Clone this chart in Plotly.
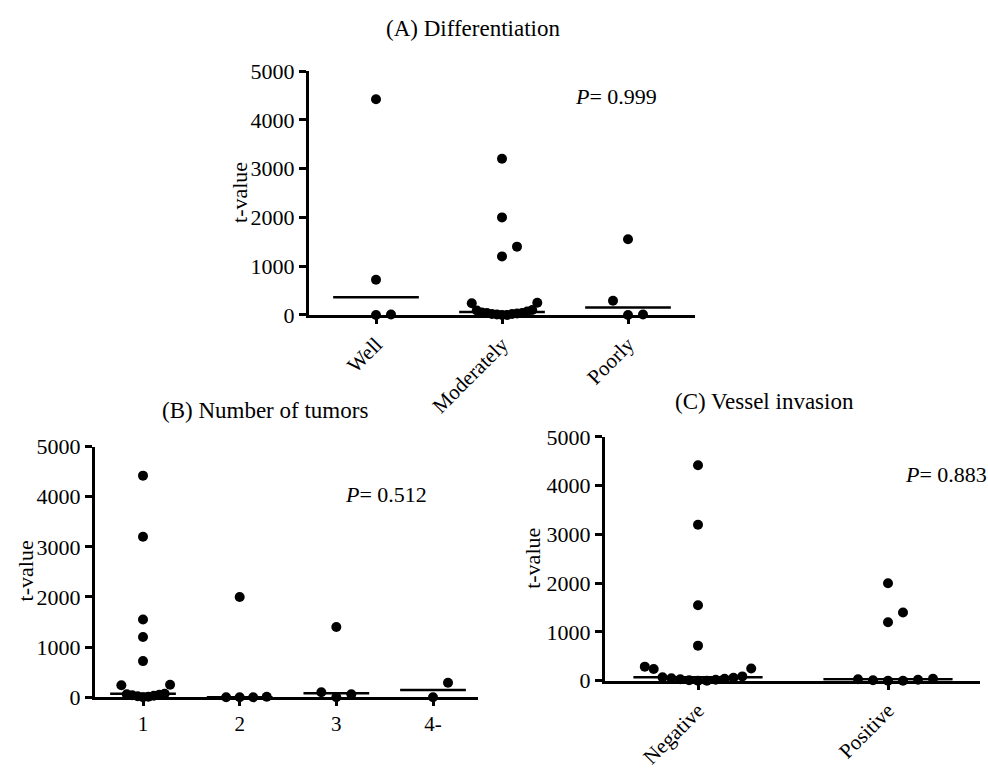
import numpy as np
import plotly.graph_objects as go

W, H = 988, 777
FONT = "Liberation Serif"

# ---------------- data ----------------
# (A) Differentiation
diff_categories = ["Well", "Moderately", "Poorly"]
diff_well = [4420, 720, 0, 10]
diff_moderately = [3200, 2000, 1400, 1200, 250, 240, 100, 90, 70, 50, 40, 40, 30, 20, 20, 10, 0, 0]
diff_poorly = [1550, 290, 0, 10]
diff_p = "0.999"

# (B) Number of tumors
tum_categories = ["1", "2", "3", "4-"]
tum_1 = [4420, 3200, 1550, 1200, 720, 250, 240, 70, 60, 50, 40, 30, 20, 10, 0]
tum_2 = [2000, 0, 0, 10, 0]
tum_3 = [1400, 100, 60, 0]
tum_4 = [290, 0]
tum_p = "0.512"

# (C) Vessel invasion
ves_categories = ["Negative", "Positive"]
ves_negative = [4420, 3200, 1550, 720, 290, 250, 240, 90, 70, 60, 50, 40, 30, 20, 10, 0, 0]
ves_positive = [2000, 1400, 1200, 40, 30, 20, 10, 0, 0]
ves_p = "0.883"

y_ticks = [0, 1000, 2000, 3000, 4000, 5000]


def px_x(p):
    return p / W


def px_y(p):
    return 1 - p / H


def swarm_offsets(values, ppu_x, ppu_y, spacing_px=15.0, maxhalf=0.28, bin_px=15.5):
    vals = np.asarray(values, float)
    order = np.argsort(vals, kind="stable")
    offs = np.zeros(len(vals))
    bins, cur, start = [], [], None
    for idx in order:
        v = vals[idx]
        if cur and (v - start) * ppu_y >= bin_px:
            bins.append(cur)
            cur = []
        if not cur:
            start = v
        cur.append(idx)
    if cur:
        bins.append(cur)
    for b in bins:
        n = len(b)
        k = int(np.ceil((n - 1) / 2)) if n > 1 else 1
        s = min(spacing_px / ppu_x, maxhalf / k)
        for j, idx in enumerate(b):
            m = (j + 1) // 2
            sign = 1 if j % 2 == 1 else -1
            offs[idx] = sign * m * s if j else 0.0
    return offs


panels = [
    dict(cats=diff_categories, groups=[diff_well, diff_moderately, diff_poorly],
         xpx=(309, 695), ypx=(61, 313), cat_px=(376, 628), tickangle=-45,
         title="(A) Differentiation", title_xy=(473, 17), p=diff_p, p_xy=(616, 87),
         ylab_xy=(240, 187)),
    dict(cats=tum_categories, groups=[tum_1, tum_2, tum_3, tum_4],
         xpx=(95, 478), ypx=(449, 708), cat_px=(143, 433), tickangle=0,
         title="(B) Number of tumors", title_xy=(265, 412), p=tum_p, p_xy=(386, 499),
         ylab_xy=(25, 578)),
    dict(cats=ves_categories, groups=[ves_negative, ves_positive],
         xpx=(605, 980), ypx=(439, 691), cat_px=(698, 888), tickangle=-45,
         title="(C) Vessel invasion", title_xy=(764, 402), p=ves_p, p_xy=(946, 478),
         ylab_xy=(533, 565)),
]

fig = go.Figure()
annotations = []

for i, pn in enumerate(panels):
    sfx = "" if i == 0 else str(i + 1)
    xa, ya = "x" + sfx, "y" + sfx
    ncat = len(pn["cats"])
    step = (pn["cat_px"][1] - pn["cat_px"][0]) / (ncat - 1)
    x0 = (pn["xpx"][0] - pn["cat_px"][0]) / step
    x1 = (pn["xpx"][1] - pn["cat_px"][0]) / step
    ppu_x = step
    ppu_y = (pn["ypx"][1] - pn["ypx"][0]) / 5000.0

    for gi, vals in enumerate(pn["groups"]):
        offs = swarm_offsets(vals, ppu_x, ppu_y)
        fig.add_trace(go.Scatter(
            x=gi + offs, y=vals, mode="markers", xaxis=xa, yaxis=ya,
            marker=dict(size=10, color="black"), cliponaxis=False,
            showlegend=False, hoverinfo="skip"))
        med = float(np.median(vals))
        fig.add_trace(go.Scatter(
            x=[gi - 0.34, gi + 0.34], y=[med, med], mode="lines", xaxis=xa, yaxis=ya,
            line=dict(color="black", width=2.5), cliponaxis=False,
            showlegend=False, hoverinfo="skip"))

    fig.layout["xaxis" + sfx] = dict(
        domain=[px_x(pn["xpx"][0]), px_x(pn["xpx"][1])], anchor=ya,
        range=[x0, x1], showgrid=False, zeroline=False, showline=True,
        linewidth=3, linecolor="black", ticks="outside", ticklen=6, tickwidth=3,
        tickcolor="black", tickvals=list(range(ncat)), ticktext=pn["cats"],
        tickangle=pn["tickangle"], tickfont=dict(family=FONT, size=21, color="black"))
    fig.layout["yaxis" + sfx] = dict(
        domain=[px_y(pn["ypx"][1]), px_y(pn["ypx"][0])], anchor=xa,
        range=[0, 5000], showgrid=False, zeroline=False, showline=True,
        linewidth=3, linecolor="black", ticks="outside", ticklen=7, tickwidth=3,
        tickcolor="black", tickvals=y_ticks, ticktext=[str(t) for t in y_ticks],
        tickfont=dict(family=FONT, size=22, color="black"))

    annotations.append(dict(text=pn["title"], x=px_x(pn["title_xy"][0]), y=px_y(pn["title_xy"][1]),
                            xref="paper", yref="paper", xanchor="center", yanchor="middle",
                            showarrow=False, font=dict(family=FONT, size=23, color="black")))
    annotations.append(dict(text="<i>P</i>= " + pn["p"], x=px_x(pn["p_xy"][0]), y=px_y(pn["p_xy"][1]),
                            xref="paper", yref="paper", xanchor="center", yanchor="middle",
                            showarrow=False, font=dict(family=FONT, size=22, color="black")))
    annotations.append(dict(text="t-value", x=px_x(pn["ylab_xy"][0]), y=px_y(pn["ylab_xy"][1]),
                            xref="paper", yref="paper", xanchor="center", yanchor="middle",
                            textangle=-90, showarrow=False,
                            font=dict(family=FONT, size=22, color="black")))

fig.update_layout(
    width=W, height=H, margin=dict(l=0, r=0, t=0, b=0),
    paper_bgcolor="white", plot_bgcolor="white",
    annotations=annotations, showlegend=False)

fig.write_html("out.html")
